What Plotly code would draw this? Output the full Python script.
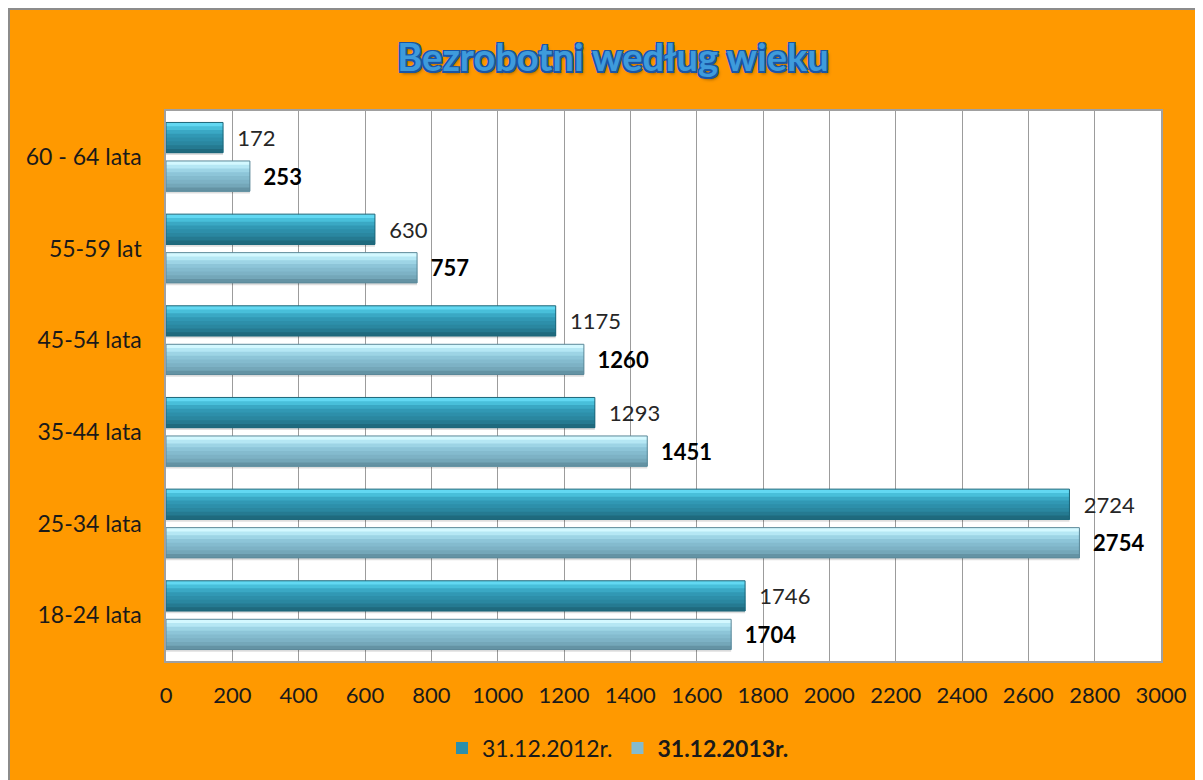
import plotly.graph_objects as go

categories = ["18-24 lata", "25-34 lata", "35-44 lata", "45-54 lata", "55-59 lat", "60 - 64 lata"]
values_2012 = [1746, 2724, 1293, 1175, 630, 172]
values_2013 = [1704, 2754, 1451, 1260, 757, 253]
series_names = ["31.12.2012r.", "31.12.2013r."]
x_ticks = list(range(0, 3001, 200))

# page body has an 8px margin; coordinates below are figure pixels
W, H = 1203, 780
OFF = 8
L, R, T, B = 166 - OFF, 1161 - OFF, 111 - OFF, 661 - OFF
FONT = "Lato"

def px_x(p):
    return (p - L) / (R - L)

def px_y(p):
    return (B - p) / (B - T)

fig = go.Figure()

BW = 0.33
series = [
    dict(vals=values_2012, name=series_names[0], off=0.045,
         legend_color="#2D93AF", line="#1D6679",
         grad=["#62D8F2", "#48BFDA", "#3AA8C4", "#3198B4", "#2D8FAA", "#2A87A0", "#257A91", "#1F6A7E"],
         tfont=dict(family=FONT, size=22, color="#262626")),
    dict(vals=values_2013, name="<b>" + series_names[1] + "</b>", off=-0.375,
         legend_color="#88C3D6", line="#5B8898",
         grad=["#D3F8FF", "#B5E7F4", "#9DD4E5", "#8DC5D8", "#84BBCE", "#7DB2C5", "#74A7B9", "#6493A4"],
         tfont=dict(family=FONT, size=22, color="#000000", weight="bold")),
]

for s in series:
    n = len(s["grad"])
    sw = BW / n
    # soft shadow under the bar
    fig.add_trace(go.Bar(
        y=categories, x=s["vals"], orientation="h", showlegend=False,
        offset=s["off"] - 0.025, width=BW,
        marker=dict(color="rgba(0,0,0,0.13)", line=dict(width=0)),
        hoverinfo="skip",
    ))
    # gradient layers, each from its start down to the bar bottom (no seams)
    for i, c in enumerate(s["grad"]):
        is_leg = (i == n // 2)
        fig.add_trace(go.Bar(
            y=categories, x=s["vals"], orientation="h",
            name=s["name"] if is_leg else None, showlegend=is_leg,
            offset=s["off"], width=BW - i * sw,
            marker=dict(color=s["legend_color"] if is_leg else c,
                        line=dict(width=0)),
            hoverinfo="skip",
        ))
        if is_leg:
            # re-draw this layer in its true colour (legend trace uses mid colour which equals c closely)
            fig.data[-1].marker.color = c
    # outline + labels
    fig.add_trace(go.Bar(
        y=categories, x=s["vals"], orientation="h", showlegend=False,
        offset=s["off"], width=BW,
        marker=dict(color="rgba(0,0,0,0)", line=dict(color=s["line"], width=1)),
        text=[f"\u00a0\u00a0{v}" for v in s["vals"]], textposition="outside",
        textfont=s["tfont"], cliponaxis=False, hoverinfo="x+y",
    ))

shapes = [
    dict(type="line", xref="paper", yref="paper", x0=px_x(0), x1=px_x(W), y0=px_y(1), y1=px_y(1),
         line=dict(color="#8C8C8C", width=2), layer="above"),
    dict(type="line", xref="paper", yref="paper", x0=px_x(1), x1=px_x(1), y0=px_y(H), y1=px_y(0),
         line=dict(color="#8C8C8C", width=2), layer="above"),
]

fig.update_layout(
    width=W, height=H,
    margin=dict(l=L, r=W - R, t=T, b=H - B),
    paper_bgcolor="#FF9900",
    plot_bgcolor="#FFFFFF",
    barmode="overlay",
    shapes=shapes,
    font=dict(family=FONT, size=22, color="#1A1A1A"),
    title=dict(
        text="<b>Bezrobotni według wieku</b>",
        x=(613 - OFF) / W, xanchor="center", xref="container",
        y=1 - (58 - OFF) / H, yanchor="middle", yref="container",
        font=dict(family=FONT, size=38, color="#3E9BDC",
                  shadow="-1.5px -1.5px 0 #1A55A5, 1.5px -1.5px 0 #1A55A5, -1.5px 1.5px 0 #1A55A5, 1.5px 1.5px 0 #1A55A5, 2px 3px 3px rgba(90,60,0,0.5)"),
    ),
    legend=dict(
        orientation="h", x=px_x(618 - OFF), xanchor="center", y=px_y(748 - OFF), yanchor="middle",
        font=dict(family=FONT, size=23, color="#1A1A1A"), bgcolor="rgba(0,0,0,0)",
        itemwidth=30,
    ),
    xaxis=dict(
        range=[0, 3000], tickvals=x_ticks, ticktext=[str(v) for v in x_ticks],
        showgrid=True, gridcolor="#9C9C9C", gridwidth=1.3,
        showline=True, linecolor="#A0A0A0", linewidth=1.5, mirror=True,
        ticks="", ticklabelstandoff=14, zeroline=False,
        tickfont=dict(family=FONT, size=22, color="#1A1A1A"),
    ),
    yaxis=dict(
        categoryorder="array", categoryarray=categories,
        showgrid=False, showline=True, linecolor="#A0A0A0", linewidth=1.5, mirror=True,
        ticks="", ticklabelstandoff=18,
        tickfont=dict(family=FONT, size=23, color="#1A1A1A"),
    ),
)

fig.write_html("out.html")
